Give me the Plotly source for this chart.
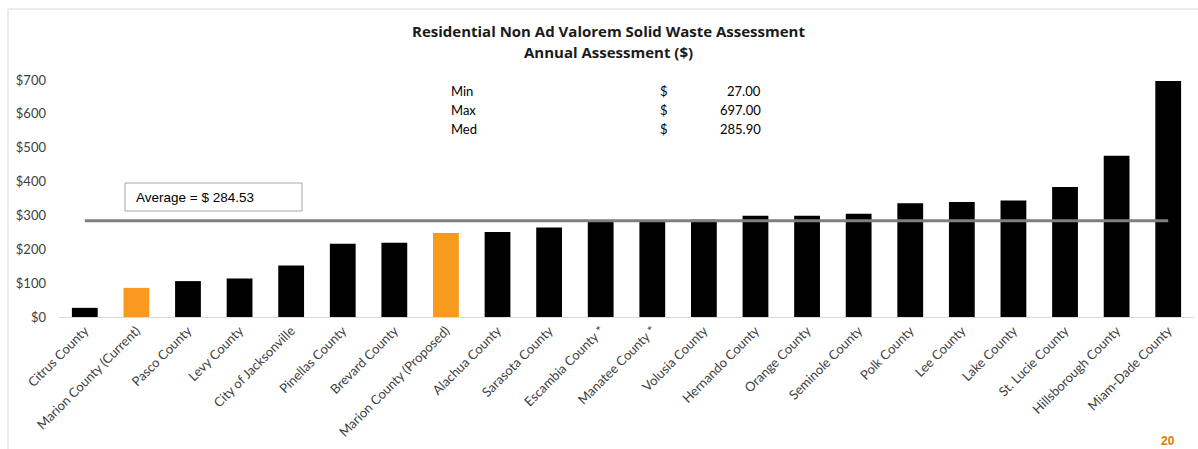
import plotly.graph_objects as go

categories = ["Citrus County", "Marion County (Current)", "Pasco County", "Levy County",
              "City of Jacksonville", "Pinellas County", "Brevard County",
              "Marion County (Proposed)", "Alachua County", "Sarasota County",
              "Escambia County *", "Manatee County *", "Volusia County", "Hernando County",
              "Orange County", "Seminole County", "Polk County", "Lee County", "Lake County",
              "St. Lucie County", "Hillsborough County", "Miam-Dade County"]
values = [27.00, 86, 106, 114, 152, 216, 219, 248, 251, 264, 285.5, 286.3, 287,
          299, 299, 305, 336, 340, 344, 384, 476, 697.00]
highlighted = ["Marion County (Current)", "Marion County (Proposed)"]
average = 284.53
stat_labels = ["Min", "Max", "Med"]
stat_values = [27.00, 697.00, 285.90]
y_ticks = [0, 100, 200, 300, 400, 500, 600, 700]

BLACK = "#000000"
ORANGE = "#F79A1E"
colors = [ORANGE if c in highlighted else BLACK for c in categories]

# plot area geometry (pixels)
L, R, T, B = 59, 1194, 80, 317
W, H = 1198, 449
def px(x):
    return (x - L) / (R - L)
def py(y):
    return (B - y) / (B - T)

fig = go.Figure()
fig.add_trace(go.Bar(x=categories, y=values, marker=dict(color=colors, line=dict(width=0)),
                     showlegend=False, hoverinfo="x+y"))
fig.add_trace(go.Scatter(x=categories, y=[average] * len(categories), mode="lines",
                         line=dict(color="#7f7f7f", width=3), showlegend=False))

title_font = dict(family="Open Sans, Lato, sans-serif", size=15, color="#1a1a1a")
annotations = [
    dict(text="<b>Residential Non Ad Valorem Solid Waste Assessment</b>", x=px(608), y=py(31),
         xref="paper", yref="paper", showarrow=False, xanchor="center", yanchor="middle",
         font=title_font),
    dict(text="<b>Annual Assessment ($)</b>", x=px(608), y=py(52),
         xref="paper", yref="paper", showarrow=False, xanchor="center", yanchor="middle",
         font=title_font),
    dict(text="Average = $ %.2f" % average, x=px(134), y=py(197), xref="paper", yref="paper",
         showarrow=False, xanchor="left", yanchor="middle",
         font=dict(family="Liberation Sans, Arial, sans-serif", size=13.5, color="#000000")),
    dict(text="<b>20</b>", x=px(1168), y=py(441), xref="paper", yref="paper",
         showarrow=False, xanchor="center", yanchor="middle",
         font=dict(family="Liberation Sans, Arial, sans-serif", size=12, color="#E07B00")),
]
for i, (lab, val) in enumerate(zip(stat_labels, stat_values)):
    yy = py(91 + 19 * i)
    f = dict(family="Lato, Open Sans, sans-serif", size=13, color="#000000")
    annotations.append(dict(text=lab, x=px(449), y=yy, xref="paper", yref="paper",
                            showarrow=False, xanchor="left", yanchor="middle", font=f))
    annotations.append(dict(text="$", x=px(658), y=yy, xref="paper", yref="paper",
                            showarrow=False, xanchor="left", yanchor="middle", font=f))
    annotations.append(dict(text="%.2f" % val, x=px(763), y=yy, xref="paper", yref="paper",
                            showarrow=False, xanchor="right", yanchor="middle", font=f))

shapes = [
    dict(type="rect", xref="paper", yref="paper", x0=px(125), x1=px(302), y0=py(211), y1=py(183),
         line=dict(color="#a6a6a6", width=1), fillcolor="white", layer="above"),
    dict(type="line", xref="paper", yref="paper", x0=px(8), x1=px(8), y0=py(9), y1=py(449),
         line=dict(color="#d9d9d9", width=1)),
    dict(type="line", xref="paper", yref="paper", x0=px(8), x1=px(1198), y0=py(9), y1=py(9),
         line=dict(color="#d9d9d9", width=1)),
]

fig.update_layout(
    width=W, height=H,
    margin=dict(l=L, r=W - R, t=T, b=H - B),
    paper_bgcolor="white", plot_bgcolor="white",
    bargap=0.5,
    showlegend=False,
    annotations=annotations,
    shapes=shapes,
    font=dict(family="Lato, Open Sans, sans-serif", color="#404040"),
)
fig.update_xaxes(tickangle=-45, tickfont=dict(size=13, color="#404040"),
                 showline=True, linecolor="#d9d9d9", linewidth=1, ticks="",
                 showgrid=False, automargin=False)
fig.update_yaxes(range=[0, 700], tickvals=y_ticks, ticktext=["$%d" % v for v in y_ticks],
                 tickfont=dict(size=13, color="#404040"), showgrid=False,
                 zeroline=False, showline=False, ticks="", ticklabelstandoff=12,
                 automargin=False)

fig.write_html("out.html", config={"displayModeBar": False},
               post_script="document.body.style.margin='0';document.body.style.overflow='hidden';")
